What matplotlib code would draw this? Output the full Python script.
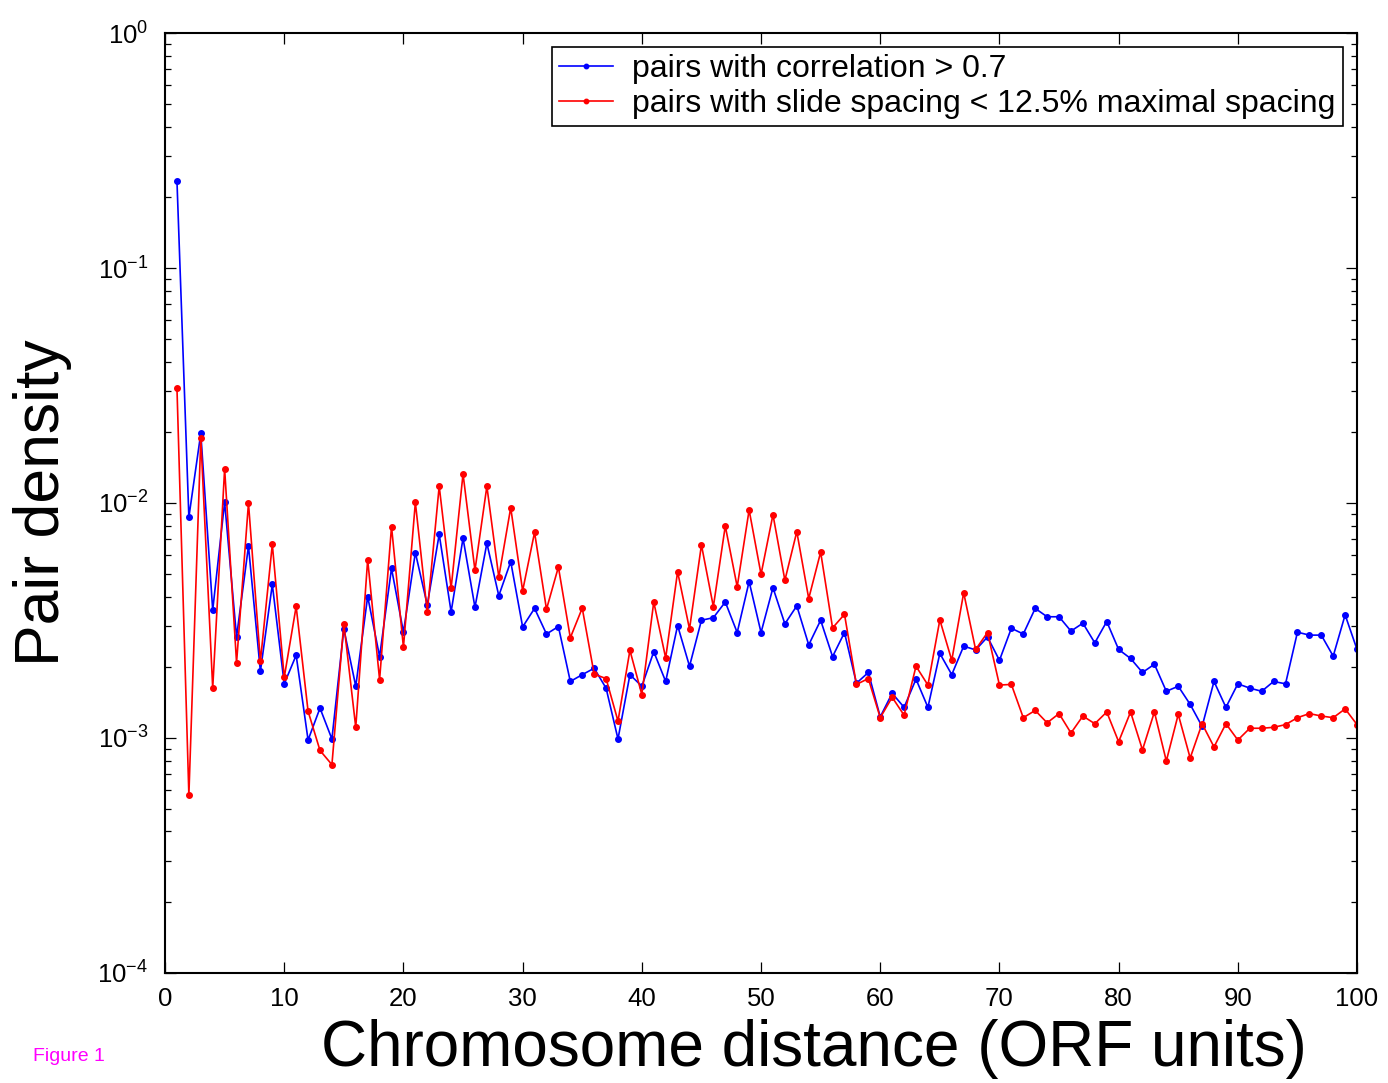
import numpy as np
import matplotlib
matplotlib.use("Agg")
import matplotlib.pyplot as plt
from matplotlib.ticker import LogLocator, LogFormatterMathtext, MultipleLocator

plt.rcParams['font.family'] = ['Liberation Sans', 'DejaVu Sans']
plt.rcParams['mathtext.fontset'] = 'custom'
plt.rcParams['mathtext.rm'] = 'Liberation Sans'
plt.rcParams['mathtext.it'] = 'Liberation Sans'

distance = np.arange(1, 101)

corr_pairs = [
    0.235, 0.0087, 0.0198, 0.0035, 0.0101, 0.00269, 0.00656, 0.00192, 0.0045, 0.0017,
    0.00225, 0.00098, 0.00134, 0.00099, 0.00291, 0.00166, 0.0040, 0.00222, 0.00527, 0.00282,
    0.00615, 0.00368, 0.00736, 0.00344, 0.00708, 0.0036, 0.00674, 0.00403, 0.00563, 0.00297,
    0.00356, 0.00277, 0.00298, 0.00174, 0.00186, 0.00198, 0.00163, 0.00099, 0.00186, 0.00166,
    0.00233, 0.00174, 0.00301, 0.00202, 0.00317, 0.00325, 0.00379, 0.00281, 0.00463, 0.00281,
    0.00436, 0.00306, 0.00365, 0.00249, 0.00317, 0.00222, 0.00281, 0.00171, 0.0019, 0.00123,
    0.00155, 0.00135, 0.00178, 0.00135, 0.00229, 0.00186, 0.00246, 0.00237, 0.00269, 0.00214,
    0.00293, 0.00277, 0.00356, 0.00328, 0.00328, 0.00285, 0.00308, 0.00254, 0.00313, 0.00238,
    0.00218, 0.0019, 0.00206, 0.00158, 0.00166, 0.00139, 0.00112, 0.00174, 0.00135, 0.0017,
    0.00163, 0.00158, 0.00174, 0.0017, 0.00282, 0.00274, 0.00274, 0.00223, 0.00334, 0.00238,
]

slide_pairs = [
    0.0309, 0.00057, 0.0189, 0.00163, 0.0140, 0.00209, 0.0100, 0.00212, 0.00667, 0.00181,
    0.00363, 0.0013, 0.000885, 0.00077, 0.00307, 0.00111, 0.00574, 0.00177, 0.00794, 0.00243,
    0.01007, 0.00343, 0.0118, 0.00434, 0.0133, 0.00517, 0.01178, 0.00484, 0.00955, 0.00423,
    0.0075, 0.00353, 0.00534, 0.00267, 0.00357, 0.00187, 0.00179, 0.00118, 0.00236, 0.00153,
    0.00379, 0.00219, 0.0051, 0.00291, 0.00663, 0.00362, 0.00798, 0.0044, 0.00934, 0.00497,
    0.00892, 0.00469, 0.00755, 0.00392, 0.00618, 0.00294, 0.00336, 0.00169, 0.00179, 0.00122,
    0.00149, 0.00125, 0.00202, 0.00168, 0.00318, 0.00214, 0.00415, 0.00238, 0.00281, 0.00168,
    0.00169, 0.00122, 0.00131, 0.00116, 0.00127, 0.00105, 0.00124, 0.00115, 0.00129, 0.000964,
    0.00129, 0.00089, 0.00129, 0.000798, 0.00126, 0.000822, 0.00115, 0.000916, 0.00115, 0.00098,
    0.0011, 0.0011, 0.00111, 0.00114, 0.00122, 0.00127, 0.00124, 0.00122, 0.00133, 0.00114,
]

fig = plt.figure(figsize=(13.88, 10.83), dpi=100)
ax = fig.add_axes([0.1189, 0.1016, 0.8588, 0.8679])

ax.plot(distance, corr_pairs, '-', color='blue', lw=1.2, marker='o', ms=4,
        label='pairs with correlation > 0.7')
ax.plot(distance, slide_pairs, '-', color='red', lw=1.2, marker='o', ms=4,
        label='pairs with slide spacing < 12.5% maximal spacing')

ax.set_yscale('log')
ax.set_xlim(0, 100)
ax.set_ylim(1e-4, 1)
ax.xaxis.set_major_locator(MultipleLocator(10))
ax.yaxis.set_major_locator(LogLocator(base=10, numticks=10))
ax.yaxis.set_minor_locator(LogLocator(base=10, subs=np.arange(2, 10), numticks=20))
ax.yaxis.set_major_formatter(LogFormatterMathtext())
ax.tick_params(which='both', direction='in', top=True, right=True, labelsize=18.5)
ax.tick_params(which='major', length=8, width=0.9)
ax.tick_params(which='minor', length=4.5, width=0.9)
ax.tick_params(axis='y', pad=12)
ax.tick_params(axis='x', pad=10)
for s in ax.spines.values():
    s.set_linewidth(1.5)

ax.set_xlabel('Chromosome distance (ORF units)', fontsize=46, labelpad=0)
ax.xaxis.set_label_coords(0.544, -0.049, transform=ax.transAxes)
ax.xaxis.label.set_va('top')
ax.set_ylabel('Pair density', fontsize=45)
ax.yaxis.set_label_coords(-0.078, 0.5)

leg = ax.legend(loc='upper right', fontsize=23, fancybox=False, edgecolor='black',
                framealpha=1, handlelength=1.7, handletextpad=0.6, borderaxespad=0.45,
                labelspacing=0.15, borderpad=0.22, markerscale=0.8)
leg.get_frame().set_linewidth(1.2)

fig.text(0.024, 0.02, 'Figure 1', color='magenta', fontsize=14)

fig.savefig('out.png', dpi=100)
